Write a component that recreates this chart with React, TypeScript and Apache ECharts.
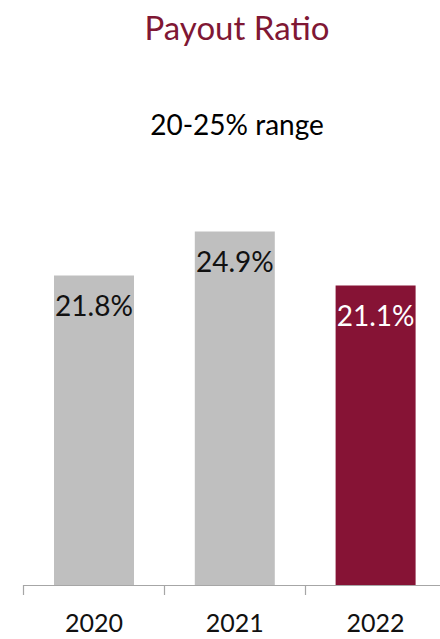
import React, { useEffect, useRef } from "react";
import * as echarts from "echarts";

const categories = ["2020", "2021", "2022"];
const payoutValues = [21.8, 24.9, 21.1];
const barColors = ["#BFBFBF", "#BFBFBF", "#861335"];
const labelColors = ["#111111", "#111111", "#FFFFFF"];
const titleText = "Payout Ratio";
const subtitleText = "20-25% range";

const FONT = "Lato, 'Open Sans', sans-serif";

export default function App() {
  const ref = useRef<HTMLDivElement>(null);
  useEffect(() => {
    if (!ref.current) return;
    const chart = echarts.init(ref.current, null, { renderer: "svg" });
    chart.setOption({
      animation: false,
      backgroundColor: "#FFFFFF",
      title: [
        {
          text: titleText,
          left: 232,
          top: 5,
          textAlign: "center",
          textStyle: { color: "#7F1734", fontSize: 33, fontWeight: "normal", fontFamily: FONT },
        },
        {
          text: subtitleText,
          left: 232,
          top: 105,
          textAlign: "center",
          textStyle: { color: "#000000", fontSize: 28, fontWeight: "normal", fontFamily: FONT },
        },
      ],
      grid: { left: 23.6, right: 0, top: 230, bottom: 54, containLabel: false },
      xAxis: {
        type: "category",
        data: categories,
        axisLine: { show: true, lineStyle: { color: "#A6A6A6", width: 1.2 } },
        axisTick: { show: true, length: 10, lineStyle: { color: "#A6A6A6", width: 1.2 } },
        axisLabel: { color: "#111111", fontSize: 25, fontFamily: FONT, margin: 24 },
      },
      yAxis: { type: "value", min: 0, max: 25, show: false, splitLine: { show: false } },
      series: [
        {
          type: "bar",
          barWidth: 80,
          data: payoutValues.map((v, i) => ({
            value: v,
            itemStyle: { color: barColors[i] },
            label: { color: labelColors[i] },
          })),
          label: {
            show: true,
            position: "insideTop",
            distance: 16,
            fontSize: 28,
            fontFamily: FONT,
            formatter: (p: any) => p.value.toFixed(1) + "%",
          },
        },
      ],
    });
    return () => chart.dispose();
  }, []);
  return (
    <div
      style={{
        position: "fixed",
        left: 0,
        top: 0,
        width: 440,
        height: 639,
        overflow: "hidden",
        background: "#fff",
      }}
    >
      <div ref={ref} style={{ width: 446, height: 639 }} />
    </div>
  );
}
